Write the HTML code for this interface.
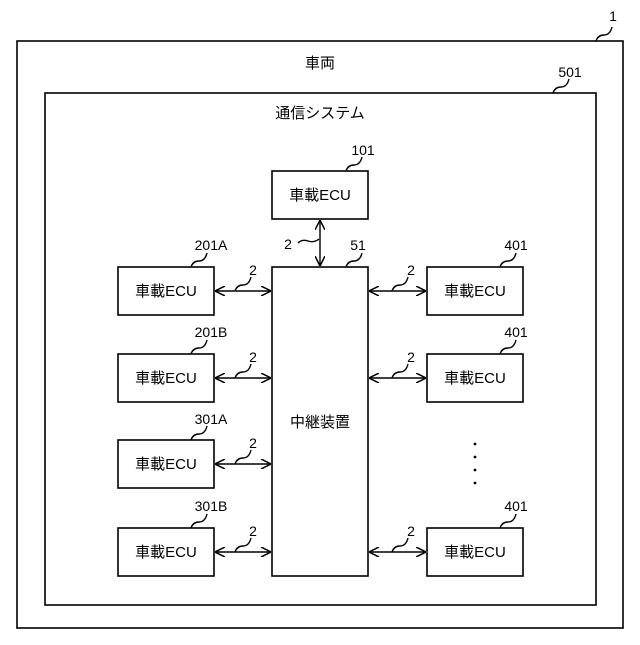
<!DOCTYPE html>
<html><head><meta charset="utf-8"><style>
html,body{margin:0;padding:0;background:#fff}
svg text{font-family:"Liberation Sans","Noto Sans CJK JP",sans-serif;fill:#000}
</style></head><body>
<svg width="640" height="640" viewBox="0 0 640 640" xmlns="http://www.w3.org/2000/svg">
<defs>
<marker id="a" viewBox="0 0 10 10" refX="10" refY="5" markerWidth="10" markerHeight="10" orient="auto-start-reverse" markerUnits="userSpaceOnUse">
<path d="M0,0 L10,5 L0,10" fill="none" stroke="#000" stroke-width="1.5"/>
</marker>
</defs>
<g fill="none" stroke="#000" stroke-width="1.6">
<rect x="17" y="41" width="606" height="587"/>
<rect x="45" y="93" width="551" height="512"/>
<rect x="272" y="171" width="96" height="48"/>
<rect x="272" y="267" width="96" height="309"/>
<rect x="118" y="267" width="96" height="48"/>
<rect x="118" y="354" width="96" height="48"/>
<rect x="118" y="440" width="96" height="48"/>
<rect x="118" y="528" width="96" height="48"/>
<rect x="427" y="267" width="96" height="48"/>
<rect x="427" y="354" width="96" height="48"/>
<rect x="427" y="528" width="96" height="48"/>
</g>
<g stroke="#000" stroke-width="1.4" fill="none">
<line x1="320" y1="220" x2="320" y2="266" marker-start="url(#a)" marker-end="url(#a)"/>
<line x1="215" y1="291" x2="271" y2="291" marker-start="url(#a)" marker-end="url(#a)"/>
<line x1="215" y1="378" x2="271" y2="378" marker-start="url(#a)" marker-end="url(#a)"/>
<line x1="215" y1="464" x2="271" y2="464" marker-start="url(#a)" marker-end="url(#a)"/>
<line x1="215" y1="552" x2="271" y2="552" marker-start="url(#a)" marker-end="url(#a)"/>
<line x1="369" y1="291" x2="426" y2="291" marker-start="url(#a)" marker-end="url(#a)"/>
<line x1="369" y1="378" x2="426" y2="378" marker-start="url(#a)" marker-end="url(#a)"/>
<line x1="369" y1="552" x2="426" y2="552" marker-start="url(#a)" marker-end="url(#a)"/>
<path d="M596,41 q2,-6 8,-6 q6,0 8,-8"/>
<path d="M553,93 q2,-6 8,-6 q6,0 8,-8"/>
<path d="M346,171 q2,-6 8,-6 q6,0 8,-8"/>
<path d="M346,267 q2,-6 8,-6 q6,0 8,-8"/>
<path d="M191,267 q2,-6 8,-6 q6,0 8,-8"/>
<path d="M191,354 q2,-6 8,-6 q6,0 8,-8"/>
<path d="M191,440 q2,-6 8,-6 q6,0 8,-8"/>
<path d="M191,528 q2,-6 8,-6 q6,0 8,-8"/>
<path d="M500,267 q2,-6 8,-6 q6,0 8,-8"/>
<path d="M500,354 q2,-6 8,-6 q6,0 8,-8"/>
<path d="M500,528 q2,-6 8,-6 q6,0 8,-8"/>
<path d="M298,243 q4,-4 10,-2 q6,2 11,-2"/>
<path d="M235,291 q2,-6 8,-6 q6,0 8,-8"/>
<path d="M235,378 q2,-6 8,-6 q6,0 8,-8"/>
<path d="M235,464 q2,-6 8,-6 q6,0 8,-8"/>
<path d="M235,552 q2,-6 8,-6 q6,0 8,-8"/>
<path d="M392,291 q2,-6 8,-6 q6,0 8,-8"/>
<path d="M392,378 q2,-6 8,-6 q6,0 8,-8"/>
<path d="M392,552 q2,-6 8,-6 q6,0 8,-8"/>
</g>
<g font-size="15" text-anchor="middle">
<text x="320" y="68">車両</text>
<text x="320" y="118">通信システム</text>
<text x="320" y="200">車載ECU</text>
<text x="166" y="296">車載ECU</text>
<text x="166" y="383">車載ECU</text>
<text x="166" y="469">車載ECU</text>
<text x="166" y="557">車載ECU</text>
<text x="475" y="296">車載ECU</text>
<text x="475" y="383">車載ECU</text>
<text x="475" y="557">車載ECU</text>
<text x="320" y="427">中継装置</text>
</g>
<g font-size="14" text-anchor="middle">
<text x="613" y="21">1</text>
<text x="570" y="77">501</text>
<text x="363" y="155">101</text>
<text x="358" y="250">51</text>
<text x="288" y="249">2</text>
<text x="211" y="250">201A</text>
<text x="211" y="337">201B</text>
<text x="211" y="424">301A</text>
<text x="211" y="511">301B</text>
<text x="516" y="250">401</text>
<text x="516" y="337">401</text>
<text x="516" y="511">401</text>
<text x="253" y="275">2</text>
<text x="253" y="362">2</text>
<text x="253" y="448">2</text>
<text x="253" y="536">2</text>
<text x="411" y="275">2</text>
<text x="411" y="362">2</text>
<text x="411" y="536">2</text>
</g>
<g fill="#000">
<circle cx="475" cy="444" r="1.4"/>
<circle cx="475" cy="457" r="1.4"/>
<circle cx="475" cy="470" r="1.4"/>
<circle cx="475" cy="483" r="1.4"/>
</g>
</svg>
</body></html>
